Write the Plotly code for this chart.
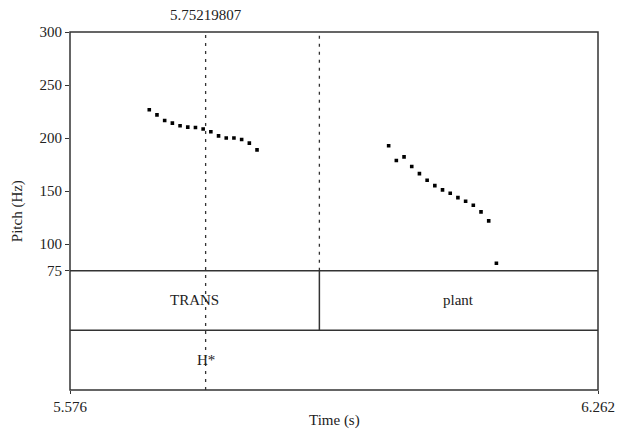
import plotly.graph_objects as go

# ---- data ----
x_min, x_max = 5.576, 6.262
pitch_min, pitch_max = 75, 300
pitch_ticks = [75, 100, 150, 200, 250, 300]
cursor_time = 5.75219807

seg1_start, seg1_step = 5.679, 0.01
seg1_hz = [226.7, 221.9, 216.6, 214.1, 211.6, 210.3, 210.0, 208.5, 205.9,
           202.1, 200.0, 200.0, 198.6, 195.2, 188.9]
seg2_start, seg2_step = 5.990, 0.01
seg2_hz = [192.7, 178.8, 182.3, 173.2, 166.5, 160.3, 155.2, 151.2, 148.0,
           143.9, 140.5, 136.7, 130.4, 121.9, 82.0]

word_bounds = [5.576, 5.900, 6.262]
word_labels = ["TRANS", "plant"]
tone_times = [5.75219807]
tone_labels = ["H*"]

seg1_t = [round(seg1_start + i * seg1_step, 4) for i in range(len(seg1_hz))]
seg2_t = [round(seg2_start + i * seg2_step, 4) for i in range(len(seg2_hz))]

FONT = "Times New Roman, Liberation Serif, serif"
TXT = "#222222"
LINE = "#333333"
FS = 15

fig = go.Figure()
for tt, hz in [(seg1_t, seg1_hz), (seg2_t, seg2_hz)]:
    fig.add_trace(go.Scatter(x=tt, y=hz, mode="markers",
                             marker=dict(symbol="square", size=3.6, color="black",
                                         line=dict(width=0)),
                             xaxis="x", yaxis="y", showlegend=False,
                             hoverinfo="skip"))
fig.add_trace(go.Scatter(x=[x_min], y=[0], mode="markers", marker=dict(opacity=0),
                         xaxis="x", yaxis="y2", showlegend=False, hoverinfo="skip"))

shapes = []
shapes.append(dict(type="rect", xref="paper", yref="paper", x0=0, x1=1, y0=0, y1=1,
                   line=dict(color=LINE, width=1.5)))
for yy in [1/3, 1/6]:
    shapes.append(dict(type="line", xref="paper", yref="paper", x0=0, x1=1, y0=yy, y1=yy,
                       line=dict(color=LINE, width=1.5)))
shapes.append(dict(type="line", xref="x", yref="paper", x0=cursor_time, x1=cursor_time,
                   y0=0, y1=1, line=dict(color=LINE, width=1.3, dash="3px,5px")))
for b in word_bounds[1:-1]:
    shapes.append(dict(type="line", xref="x", yref="paper", x0=b, x1=b, y0=1/3, y1=1,
                       line=dict(color=LINE, width=1.3, dash="3px,5px")))
    shapes.append(dict(type="line", xref="x", yref="paper", x0=b, x1=b, y0=1/6, y1=1/3,
                       line=dict(color=LINE, width=1.5)))

annotations = []
annotations.append(dict(text=f"{cursor_time:.8f}", x=cursor_time, xref="x", y=1, yref="paper",
                        yanchor="middle", yshift=17, showarrow=False,
                        font=dict(family=FONT, size=FS, color=TXT)))
for i, lab in enumerate(word_labels):
    annotations.append(dict(text=lab, x=(word_bounds[i] + word_bounds[i + 1]) / 2, xref="x",
                            y=1.5, yref="y2", showarrow=False, yanchor="middle",
                            font=dict(family=FONT, size=FS, color=TXT)))
for t, lab in zip(tone_times, tone_labels):
    annotations.append(dict(text=lab, x=t, xref="x", y=0.5, yref="y2", showarrow=False,
                            yanchor="middle", font=dict(family=FONT, size=FS, color=TXT)))
annotations.append(dict(text="Pitch (Hz)", xref="paper", x=-0.1, yref="paper", y=0.5,
                        textangle=-90, showarrow=False, xanchor="center", yanchor="middle",
                        font=dict(family=FONT, size=FS, color=TXT)))
annotations.append(dict(text="Time (s)", xref="paper", x=0.5, yref="paper", y=0,
                        yshift=-30, showarrow=False, yanchor="middle",
                        font=dict(family=FONT, size=FS, color=TXT)))

fig.update_layout(
    width=627, height=434,
    margin=dict(l=70, r=21, t=32, b=44, pad=0),
    paper_bgcolor="white", plot_bgcolor="white",
    font=dict(family=FONT, size=FS, color=TXT),
    xaxis=dict(range=[x_min, x_max], anchor="y2", tickvals=[x_min, x_max],
               ticktext=[f"{x_min:.3f}", f"{x_max:.3f}"], ticks="outside", ticklen=3,
               tickcolor=LINE, showgrid=False, zeroline=False, showline=False,
               tickfont=dict(family=FONT, size=FS, color=TXT)),
    yaxis=dict(domain=[1/3, 1], range=[pitch_min, pitch_max], tickvals=pitch_ticks,
               ticks="outside", ticklen=4, tickcolor=LINE, showgrid=False, zeroline=False,
               showline=False, tickfont=dict(family=FONT, size=FS, color=TXT)),
    yaxis2=dict(domain=[0, 1/3], range=[0, 2], visible=False, showgrid=False),
    shapes=shapes, annotations=annotations,
)

fig.write_html("out.html")
